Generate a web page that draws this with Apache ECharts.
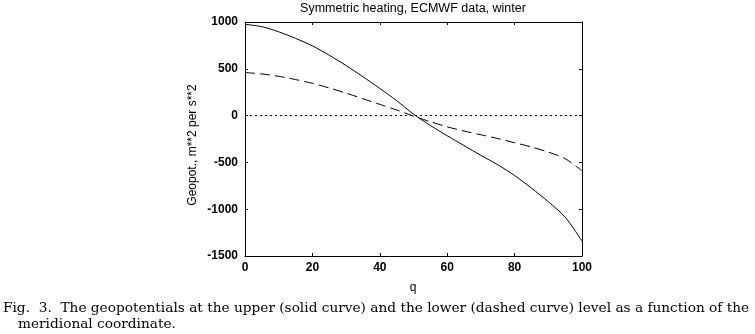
<!DOCTYPE html>
<html>
<head>
<meta charset="utf-8">
<script src="https://cdn.jsdelivr.net/npm/echarts@6/dist/echarts.min.js"></script>
<style>
html,body{margin:0;padding:0;background:#fff;}
#c{width:755px;height:334px;}
</style>
</head>
<body>
<div id="c"></div>
<script>
var qValues = [0,5,10,15,20,25,30,35,40,45,50,55,60,65,70,75,80,85,90,95,100];
var upperLevel = [975,950,895,825,745,645,535,415,290,160,15,-105,-215,-320,-425,-525,-640,-775,-920,-1085,-1340];
var lowerLevel = [460,445,420,385,345,295,240,180,120,60,-5,-65,-120,-165,-205,-245,-290,-335,-390,-460,-590];
var xTicks = [0,20,40,60,80,100];
var yTicks = [-1500,-1000,-500,0,500,1000];
var titleText = 'Symmetric heating, ECMWF data, winter';
var yName = 'Geopot., m**2 per s**2';
var xName = 'q';
var caption1 = 'Fig.  3.  The geopotentials at the upper (solid curve) and the lower (dashed curve) level as a function of the';
var caption2 = 'meridional coordinate.';

function pairs(ys){ return qValues.map(function(q,i){ return [q, ys[i]]; }); }

var chart = echarts.init(document.getElementById('c'), null, {renderer:'canvas'});
var axisFont = {color:'#000', fontFamily:'Liberation Sans', fontSize:12, fontWeight:'bold'};
var baseX = {
  type:'value', min:xTicks[0], max:xTicks[xTicks.length-1], interval:20,
  axisLine:{show:true, onZero:false, lineStyle:{color:'#000', width:1}},
  axisTick:{show:true, inside:true, length:3, lineStyle:{color:'#000'}},
  splitLine:{show:false}
};
var baseY = {
  type:'value', min:yTicks[0], max:yTicks[yTicks.length-1], interval:500,
  axisLine:{show:true, onZero:false, lineStyle:{color:'#000', width:1}},
  axisTick:{show:true, inside:true, length:3, lineStyle:{color:'#000'}},
  splitLine:{show:false}
};
function plain(v){ return String(v); }
chart.setOption({
  animation:false,
  backgroundColor:'#fff',
  grid:{left:245, top:22, width:337, height:234, containLabel:false},
  xAxis:[
    Object.assign({}, baseX, {position:'bottom', axisLabel:Object.assign({margin:6, formatter:plain}, axisFont)}),
    Object.assign({}, baseX, {position:'top', axisLabel:{show:false}})
  ],
  yAxis:[
    Object.assign({}, baseY, {position:'left', axisLabel:Object.assign({margin:7, formatter:plain}, axisFont)}),
    Object.assign({}, baseY, {position:'right', axisLabel:{show:false}})
  ],
  series:[
    {type:'line', name:'upper', data:pairs(upperLevel), smooth:0.3, symbol:'none',
     lineStyle:{color:'#000', width:1, type:'solid'},
     markLine:{silent:true, symbol:'none', label:{show:false},
       lineStyle:{color:'#000', width:1, type:[2,3]},
       data:[[{coord:[0,0]},{coord:[99,0]}]]}},
    {type:'line', name:'lower', data:pairs(lowerLevel), smooth:0.3, symbol:'none',
     lineStyle:{color:'#000', width:1, type:[10,5]}}
  ],
  graphic:[
    {type:'text', style:{text:titleText, x:413, y:9, align:'center', verticalAlign:'middle', fontFamily:'Liberation Sans', fontSize:12.5, fill:'#000'}},
    {type:'text', style:{text:xName, x:413, y:288, align:'center', verticalAlign:'middle', fontFamily:'Liberation Sans', fontSize:12, fill:'#000'}},
    {type:'text', rotation:Math.PI/2, x:193, y:145, style:{text:yName, x:0, y:0, align:'center', verticalAlign:'middle', fontFamily:'Liberation Sans', fontSize:12, fill:'#000'}},
    {type:'text', style:{text:caption1, x:3, y:308, align:'left', verticalAlign:'middle', fontFamily:'DejaVu Serif', fontSize:13.7, fill:'#000'}},
    {type:'text', style:{text:caption2, x:18, y:324, align:'left', verticalAlign:'middle', fontFamily:'DejaVu Serif', fontSize:13.7, fill:'#000'}}
  ]
});
</script>
</body>
</html>
